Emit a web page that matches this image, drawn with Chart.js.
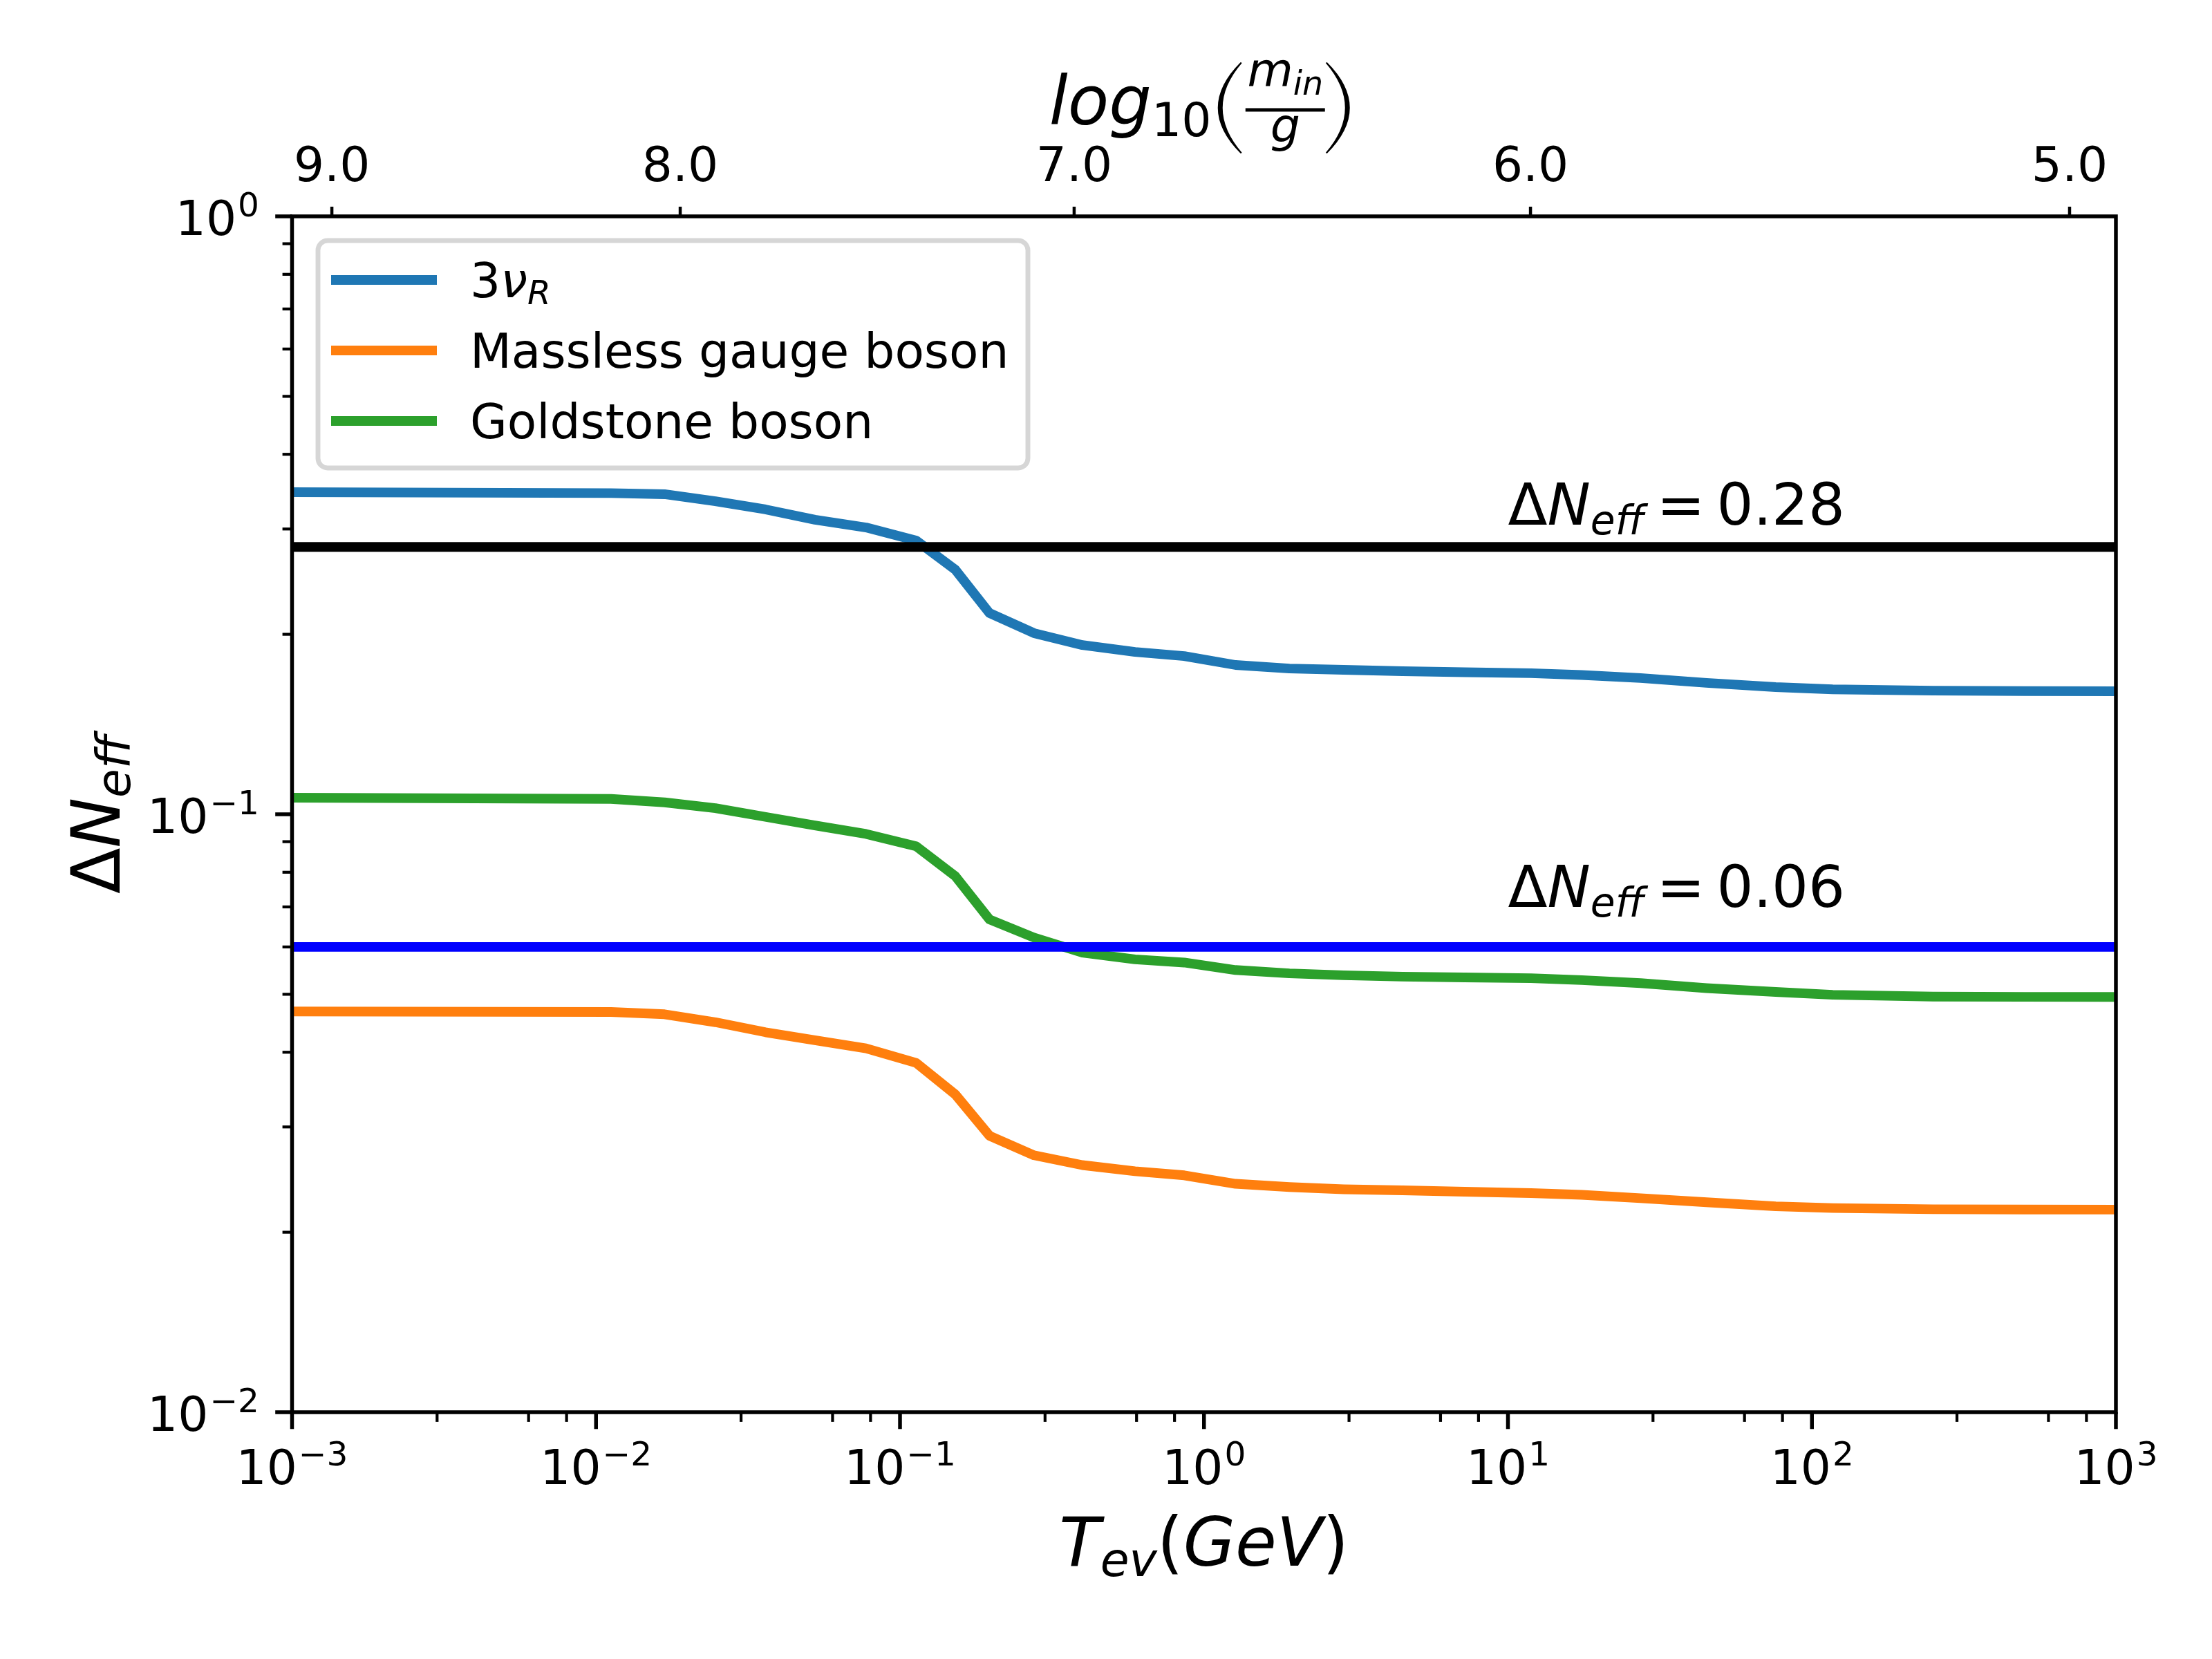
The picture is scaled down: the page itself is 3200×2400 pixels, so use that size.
<!DOCTYPE html>
<html>
<head>
<meta charset="utf-8">
<script src="https://cdn.jsdelivr.net/npm/chart.js@4.4.1/dist/chart.umd.min.js"></script>
<style>
html,body{margin:0;padding:0;background:#ffffff;}
canvas{display:block;}
</style>
</head>
<body>
<canvas id="c" width="3200" height="2400"></canvas>
<script>
// ---------------- data ----------------
const temperatures = [0.001, 0.0112, 0.0168, 0.0247, 0.0361, 0.0525, 0.0773, 0.113, 0.152, 0.197,
  0.276, 0.398, 0.593, 0.861, 1.27, 1.91, 2.88, 4.5, 7.2, 11.9, 17.5, 27.3, 45, 76, 117, 250, 500, 1000];
const dNeffNuR = [0.3457, 0.3445, 0.3430, 0.3339, 0.3235, 0.3109, 0.3018, 0.2870, 0.2565, 0.2170,
  0.2009, 0.1919, 0.1869, 0.1839, 0.1777, 0.1753, 0.1744, 0.1735, 0.1728, 0.1722, 0.1710, 0.1690,
  0.1659, 0.1632, 0.1618, 0.1610, 0.1607, 0.1606];
const dNeffGauge = [0.0468, 0.0467, 0.0463, 0.0449, 0.0432, 0.0419, 0.0406, 0.0384, 0.0340, 0.0290,
  0.0269, 0.0259, 0.0253, 0.0249, 0.0241, 0.0238, 0.0236, 0.0235, 0.02338, 0.02325, 0.0231, 0.0228,
  0.02245, 0.0221, 0.02195, 0.02185, 0.02183, 0.02182];
const dNeffGoldstone = [0.1066, 0.1061, 0.1047, 0.1024, 0.0990, 0.0958, 0.0927, 0.0884, 0.0788, 0.0667,
  0.0622, 0.0587, 0.0572, 0.0565, 0.0549, 0.0542, 0.0538, 0.05352, 0.05335, 0.0532, 0.0528, 0.0522,
  0.0512, 0.05045, 0.0499, 0.04955, 0.0495, 0.04948];
const seriesLabels = ['3ν_R', 'Massless gauge boson', 'Goldstone boson'];

const limitValues = [0.28, 0.06];
const limitTexts = ['0.28', '0.06'];
const limitTextT = [10, 10];
const limitTextY = [0.305, 0.070];

const xRange = [1e-3, 1e3];
const yRange = [1e-2, 1];
const xMajorTicks = [1e-3, 1e-2, 1e-1, 1, 10, 100, 1000];
const xTickLabels = ['10^−3', '10^−2', '10^−1', '10^0', '10^1', '10^2', '10^3'];
const yMajorTicks = [1e-2, 1e-1, 1];
const yTickLabels = ['10^−2', '10^−1', '10^0'];
const topTickT = [1.352e-3, 0.01892, 0.374, 11.86, 704];
const topTickLabels = ['9.0', '8.0', '7.0', '6.0', '5.0'];

// ---------------- styling helpers ----------------
const FS = 69.4;   // 10 pt
const FL = 97.2;   // 14 pt
const FA = 83.3;   // 12 pt
const FAM = '"DejaVu Sans"';

function mk(t, o) { return Object.assign({ t: t, s: FS, it: false, dy: 0, k: 0 }, o || {}); }
function setFont(ctx, r) { ctx.font = (r.it ? 'italic ' : '') + r.s + 'px ' + FAM; }
function measureRuns(ctx, runs) {
  let w = 0;
  for (const r of runs) { setFont(ctx, r); r.w = ctx.measureText(r.t).width; w += r.w + r.k; }
  return w;
}
function drawRuns(ctx, runs, x, y, align) {
  const w = measureRuns(ctx, runs);
  let cx = align === 'center' ? x - w / 2 : align === 'right' ? x - w : x;
  ctx.textAlign = 'left'; ctx.textBaseline = 'alphabetic';
  for (const r of runs) { setFont(ctx, r); ctx.fillText(r.t, cx, y + r.dy); cx += r.w + r.k; }
  return w;
}
function sciRuns(label, size) {
  const p = label.split('^');
  return [mk(p[0], { s: size, k: 2 }), mk(p[1], { s: size * 0.7, dy: -size * 0.39 })];
}
function paren(ctx, x1, y1, x2, y2, t, left) {
  const ym = (y1 + y2) / 2;
  ctx.beginPath();
  if (left) {
    ctx.moveTo(x2, y1);
    ctx.quadraticCurveTo(2 * x1 - x2, ym, x2, y2);
    ctx.lineTo(x2 + 2, y2 - 1);
    ctx.quadraticCurveTo(2 * (x1 + t) - x2 - 2, ym, x2 + 2, y1 + 1);
  } else {
    ctx.moveTo(x1, y1);
    ctx.quadraticCurveTo(2 * x2 - x1, ym, x1, y2);
    ctx.lineTo(x1 - 2, y2 - 1);
    ctx.quadraticCurveTo(2 * (x2 - t) - x1 + 2, ym, x1 - 2, y1 + 1);
  }
  ctx.closePath();
  ctx.fill();
}
const legendRuns = {
  '3ν_R': [mk('3'), mk('ν', { it: true }), mk('R', { it: true, s: FS * 0.7, dy: 10 })]
};

function logTicks(majors) {
  const out = [];
  for (let i = 0; i < majors.length; i++) {
    out.push({ value: majors[i], major: true });
    if (i < majors.length - 1) {
      for (let m = 2; m <= 9; m++) out.push({ value: +(m * majors[i]).toPrecision(6), major: false });
    }
  }
  return out;
}

// ---------------- plugin drawing matplotlib-like axes ----------------
const mplAxes = {
  id: 'mplAxes',
  beforeDraw(chart) {
    const c = chart.ctx;
    c.save(); c.fillStyle = '#ffffff'; c.fillRect(0, 0, chart.width, chart.height); c.restore();
  },
  afterDatasetsDraw(chart) {
    const ctx = chart.ctx, a = chart.chartArea;
    const sx = chart.scales.x, sy = chart.scales.y, st = chart.scales.xTop;
    const cx = (a.left + a.right) / 2, cy = (a.top + a.bottom) / 2;
    ctx.save();
    ctx.fillStyle = '#000'; ctx.strokeStyle = '#000'; ctx.lineCap = 'butt';

    // bottom ticks + labels
    let mi = 0;
    sx.ticks.forEach(t => {
      const p = sx.getPixelForValue(t.value);
      ctx.lineWidth = t.major ? 5.5 : 4.2;
      ctx.beginPath(); ctx.moveTo(p, a.bottom); ctx.lineTo(p, a.bottom + (t.major ? 24.3 : 13.9)); ctx.stroke();
      if (t.major) { drawRuns(ctx, sciRuns(xTickLabels[mi], FS), p, a.bottom + 104, 'center'); mi++; }
    });
    // left ticks + labels
    mi = 0;
    sy.ticks.forEach(t => {
      const p = sy.getPixelForValue(t.value);
      ctx.lineWidth = t.major ? 5.5 : 4.2;
      ctx.beginPath(); ctx.moveTo(a.left, p); ctx.lineTo(a.left - (t.major ? 24.3 : 13.9), p); ctx.stroke();
      if (t.major) { drawRuns(ctx, sciRuns(yTickLabels[mi], FS), a.left - 47.5, p + 27, 'right'); mi++; }
    });
    // top ticks + labels
    st.ticks.forEach((t, i) => {
      const p = st.getPixelForValue(t.value);
      ctx.lineWidth = 4.5;
      ctx.beginPath(); ctx.moveTo(p, a.top); ctx.lineTo(p, a.top - 14); ctx.stroke();
      drawRuns(ctx, [mk(topTickLabels[i])], p, a.top - 51, 'center');
    });

    // spines
    ctx.lineWidth = 5.5; ctx.lineJoin = 'miter';
    ctx.strokeRect(a.left, a.top, a.right - a.left, a.bottom - a.top);

    // x label
    drawRuns(ctx, [mk('T', { s: FL, it: true }), mk('ev', { s: FL * 0.7, it: true, dy: 15 }),
      mk('(', { s: FL }), mk('GeV', { s: FL, it: true }), mk(')', { s: FL })], cx, a.bottom + 222, 'center');

    // y label
    ctx.save();
    ctx.translate(a.left - 250, cy);
    ctx.rotate(-Math.PI / 2);
    drawRuns(ctx, [mk('Δ', { s: FL }), mk('N', { s: FL, it: true }), mk('eff', { s: FL * 0.7, it: true, dy: 15 })], 0, 0, 'center');
    ctx.restore();

    // top label: log10( m_in / g )
    const tb = a.top - 133;           // baseline of "log"
    let x0 = cx - 224;
    x0 += drawRuns(ctx, [mk('log', { s: FL, it: true })], x0, tb, 'left');
    drawRuns(ctx, [mk('10', { s: FL * 0.7 })], x0, tb + 17, 'left');
    const px1 = cx + 20, barL = cx + 60, barR = cx + 175;
    paren(ctx, px1, a.top - 223, px1 + 33, a.top - 91, 7, true);
    ctx.fillRect(barL, a.top - 156.5, barR - barL, 5);
    drawRuns(ctx, [mk('m', { s: FL * 0.7, it: true }), mk('in', { s: FL * 0.49, it: true, dy: 12 })],
      (barL + barR) / 2, a.top - 188, 'center');
    drawRuns(ctx, [mk('g', { s: FL * 0.7, it: true })], (barL + barR) / 2, a.top - 108, 'center');
    paren(ctx, barR + 3, a.top - 223, barR + 36, a.top - 91, 7, false);

    // limit annotations
    for (let i = 0; i < limitValues.length; i++) {
      drawRuns(ctx, [mk('Δ', { s: FA }), mk('N', { s: FA, it: true }),
        mk('eff', { s: FA * 0.7, it: true, dy: 14, k: 18 }), mk('=', { s: FA, k: 17 }), mk(limitTexts[i], { s: FA })],
        sx.getPixelForValue(limitTextT[i]), sy.getPixelForValue(limitTextY[i]), 'left');
    }

    // legend
    const L = { x: a.left + 37.5, y: a.top + 35, w: 1027, h: 329 };
    ctx.beginPath();
    ctx.roundRect(L.x, L.y, L.w, L.h, 14);
    ctx.fillStyle = 'rgba(255,255,255,0.8)'; ctx.fill();
    ctx.lineWidth = 6.9; ctx.strokeStyle = '#d6d6d6'; ctx.stroke();
    const items = chart.data.datasets.filter(d => !d.isLimit);
    items.forEach((d, i) => {
      const yc = L.y + 57 + i * 102;
      ctx.strokeStyle = d.borderColor; ctx.lineWidth = 13.9; ctx.lineCap = 'butt';
      ctx.beginPath(); ctx.moveTo(L.x + 19, yc); ctx.lineTo(L.x + 172, yc); ctx.stroke();
      ctx.fillStyle = '#000';
      const runs = legendRuns[d.label] || [mk(d.label)];
      drawRuns(ctx, runs, L.x + 220, yc + 25, 'left');
    });
    ctx.restore();
  }
};

// ---------------- chart ----------------
const toPts = ys => temperatures.map((t, i) => ({ x: t, y: ys[i] }));
const limitPts = v => [{ x: xRange[0], y: v }, { x: xRange[1], y: v }];

new Chart(document.getElementById('c'), {
  type: 'line',
  data: {
    datasets: [
      { label: seriesLabels[0], data: toPts(dNeffNuR), borderColor: '#1f77b4', order: 1 },
      { label: seriesLabels[1], data: toPts(dNeffGauge), borderColor: '#ff7f0e', order: 1 },
      { label: seriesLabels[2], data: toPts(dNeffGoldstone), borderColor: '#2ca02c', order: 1 },
      { label: 'ΔN_eff = ' + limitTexts[0], data: limitPts(limitValues[0]), borderColor: '#000000', order: 0, isLimit: true },
      { label: 'ΔN_eff = ' + limitTexts[1], data: limitPts(limitValues[1]), borderColor: '#0000ff', order: 0, isLimit: true }
    ]
  },
  options: {
    responsive: false,
    animation: false,
    devicePixelRatio: 1,
    layout: { padding: { left: 422.5, right: 139, top: 313, bottom: 357 } },
    elements: {
      line: { borderWidth: 13.9, tension: 0, fill: false, borderJoinStyle: 'round', borderCapStyle: 'butt' },
      point: { radius: 0, hoverRadius: 0 }
    },
    datasets: { line: { clip: 0 } },
    plugins: { legend: { display: false }, tooltip: { enabled: false } },
    events: [],
    scales: {
      x: { type: 'logarithmic', min: xRange[0], max: xRange[1], display: false,
           afterBuildTicks: s => { s.ticks = logTicks(xMajorTicks); } },
      y: { type: 'logarithmic', min: yRange[0], max: yRange[1], display: false,
           afterBuildTicks: s => { s.ticks = logTicks(yMajorTicks); } },
      xTop: { type: 'logarithmic', axis: 'x', position: 'top', min: xRange[0], max: xRange[1], display: false,
              afterBuildTicks: s => { s.ticks = topTickT.map(v => ({ value: v, major: true })); } }
    }
  },
  plugins: [mplAxes]
});
</script>
</body>
</html>
